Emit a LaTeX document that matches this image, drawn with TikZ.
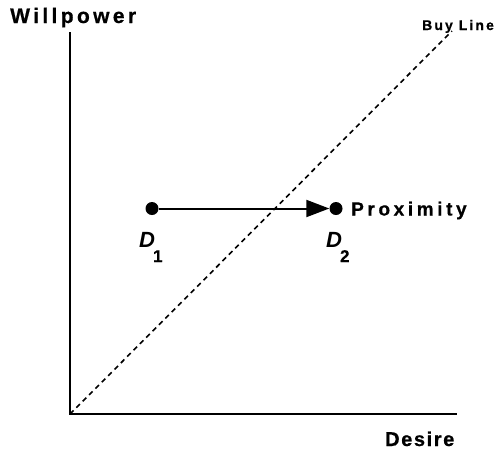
\documentclass[tikz,border=0pt]{standalone}
\usepackage{fontspec}
\setmainfont{Liberation Sans}[BoldFeatures={FakeBold=0.6}]
\newfontfamily\spacedA[LetterSpace=16,BoldFeatures={FakeBold=0.6}]{Liberation Sans}
\newfontfamily\spacedB[LetterSpace=15,BoldFeatures={FakeBold=0.6}]{Liberation Sans}
\newfontfamily\spacedC[LetterSpace=19,BoldFeatures={FakeBold=0.6}]{Liberation Sans}
\newfontfamily\spacedD[LetterSpace=8,BoldFeatures={FakeBold=0.6}]{Liberation Sans}
\usetikzlibrary{arrows.meta}
\newcommand{\dsub}[1]{\textit{D}\kern-2pt\raisebox{-15pt}{\fontsize{17}{19}\selectfont\upshape #1}}
\begin{document}
\begin{tikzpicture}[x=1pt,y=-1pt,
  axis/.style={line width=2pt},
  dot/.style={circle,fill=black,inner sep=0pt,minimum size=13pt},
  lab/.style={inner sep=0pt},
  dlab/.style={font=\bfseries\fontsize{22}{24}\selectfont,inner sep=0pt,anchor=base west}]
\useasboundingbox (0,0) rectangle (504,451);
\coordinate (O) at (70,414);
\coordinate (Ytop) at (70,32);
\coordinate (Xend) at (457,414);
\coordinate (Btop) at (452,31);
\draw[axis] (Ytop) -- (O) -- (Xend);
\draw[line width=1.6pt,dash pattern=on 5pt off 4pt] (O) -- (Btop);
\node[lab,anchor=base west,font=\spacedA\bfseries\fontsize{21}{23}\selectfont] (wp) at (10,23) {Willpower};
\node[lab,anchor=base west,font=\spacedB\bfseries\fontsize{14}{16}\selectfont] (buy) at (422,30) {Buy Line};
\node[lab,anchor=base west,font=\spacedD\bfseries\fontsize{20}{22}\selectfont] (des) at (385,446) {Desire};
\node[dot] (d1) at (152,208.5) {};
\node[dot] (d2) at (336,208.5) {};
\draw[line width=2pt,-{Triangle[length=23pt,width=17pt]}] (d1) -- (d2);
\node[lab,anchor=base west,font=\spacedC\bfseries\fontsize{19}{21}\selectfont] (prox) at (351,215.5) {Proximity};
\node[dlab] (l1) at (139,247) {\dsub{1}};
\node[dlab] (l2) at (326,247) {\dsub{2}};
\end{tikzpicture}
\end{document}
